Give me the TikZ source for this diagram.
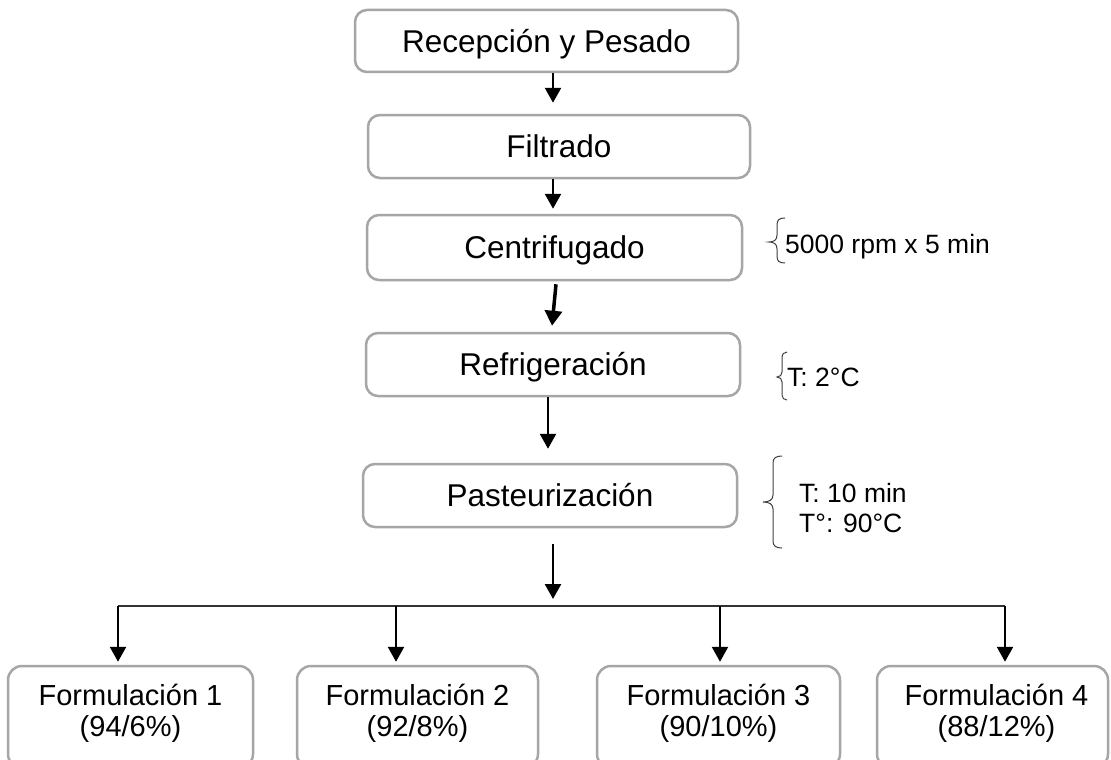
\documentclass[tikz,border=0pt]{standalone}
\usepackage{fontspec}
\setmainfont{Liberation Sans}
\usetikzlibrary{arrows.meta}
\definecolor{boxgray}{RGB}{166,166,166}
\definecolor{bracegray}{RGB}{64,64,64}
\definecolor{linegray}{RGB}{50,50,50}
\begin{document}
\begin{tikzpicture}[x=1pt,y=-1pt,
  stepbox/.style={draw=boxgray, line width=2.5pt, rounded corners=12pt, inner sep=0pt,
    font=\fontsize{31.5}{36}\selectfont, text height=22.5pt, text depth=0pt},
  formbox/.style={draw=boxgray, line width=2.5pt, rounded corners=14pt, inner sep=0pt, minimum height=102pt},
  ftext/.style={anchor=base, inner sep=0pt, font=\fontsize{29}{34}\selectfont},
  note/.style={anchor=base west, inner sep=0pt, font=\fontsize{26.5}{31}\selectfont},
  arr/.style={-{Triangle[width=16pt,length=15pt]}, line width=2.5pt},
  thickarr/.style={-{Triangle[width=17pt,length=15pt]}, line width=3.5pt},
  hline/.style={draw=linegray, line width=1.5pt},
  bracepath/.style={draw=bracegray, line width=1pt},
]
\clip (0,0) rectangle (1111,760);
\fill[white] (0,0) rectangle (1111,760);

% main steps
\node[stepbox, minimum width=383pt, minimum height=62pt] (b1) at (546.5,41) {Recepción y Pesado};
\node[stepbox, minimum width=382pt, minimum height=63pt] (b2) at (559,146.5) {Filtrado};
\node[stepbox, minimum width=375pt, minimum height=65pt] (b3) at (554.5,247.5) {Centrifugado};
\node[stepbox, minimum width=374pt, minimum height=63pt] (b4) at (553,364.5) {Refrigeración};
\node[stepbox, minimum width=374pt, minimum height=63pt] (b5) at (550,495.5) {Pasteurización};

% formulation boxes
\node[formbox, minimum width=245pt] (f1) at (130.5,717) {};
\node[formbox, minimum width=241pt] (f2) at (417.5,717) {};
\node[formbox, minimum width=243pt] (f3) at (718.5,717) {};
\node[formbox, minimum width=231pt] (f4) at (992.5,717) {};

\node[ftext] (f1a) at ([yshift=-41pt]f1.north) {Formulación 1};
\node[ftext] (f1b) at ([yshift=-72pt]f1.north) {(94/6\%)};
\node[ftext] (f2a) at ([yshift=-41pt]f2.north) {Formulación 2};
\node[ftext] (f2b) at ([yshift=-72pt]f2.north) {(92/8\%)};
\node[ftext] (f3a) at ([yshift=-41pt]f3.north) {Formulación 3};
\node[ftext] (f3b) at ([yshift=-72pt]f3.north) {(90/10\%)};
\node[ftext] (f4a) at ([xshift=4pt,yshift=-41pt]f4.north) {Formulación 4};
\node[ftext] (f4b) at ([xshift=4pt,yshift=-72pt]f4.north) {(88/12\%)};

% arrows between steps
\draw[arr] ([xshift=6.5pt]b1.south) -- ([xshift=-6pt,yshift=11pt]b2.north);
\draw[arr] ([xshift=-6pt]b2.south) -- ([xshift=-1.5pt,yshift=5pt]b3.north);
\draw[thickarr] ([xshift=1.5pt,yshift=-3pt]b3.south) -- ([xshift=-1pt,yshift=6pt]b4.north);
\draw[arr] ([xshift=-5pt]b4.south) -- ([xshift=-2pt,yshift=14pt]b5.north);

% split
\coordinate (j0) at (553,606);
\coordinate (j1) at (118,606);
\coordinate (j2) at (396,606);
\coordinate (j3) at (720,606);
\coordinate (j4) at (1005,606);
\draw[arr] ([xshift=3pt,yshift=-16pt]b5.south) -- ([yshift=7pt]j0);
\draw[hline] (j1) -- (j4);
\draw[arr, shorten >=3pt] (j1) -- (j1 |- f1.north);
\draw[arr, shorten >=3pt] (j2) -- (j2 |- f2.north);
\draw[arr, shorten >=3pt] (j3) -- (j3 |- f3.north);
\draw[arr, shorten >=3pt] (j4) -- (j4 |- f4.north);

% braces and notes
\draw[bracepath] (785,218) .. controls (779,218) and (777,220) .. (777,225) -- (777,235)
  .. controls (777,240) and (774,242) .. (769,242) .. controls (774,242) and (777,244) .. (777,249)
  -- (777,256) .. controls (777,261) and (779,263) .. (785,263);
\node[note] (n1) at (785,253) {5000 rpm x 5 min};

\draw[bracepath] (787,352) .. controls (784,352) and (782,354) .. (782,358) -- (782,372)
  .. controls (782,375) and (780,377) .. (777,377) .. controls (780,377) and (782,379) .. (782,382)
  -- (782,395) .. controls (782,398) and (784,400) .. (787,400);
\node[note] (n2) at (787,386) {T: 2°C};

\draw[bracepath] (782,456) .. controls (776,456) and (773,458) .. (773,463) -- (773,495)
  .. controls (773,500) and (769,502) .. (763,502) .. controls (769,502) and (773,504) .. (773,509)
  -- (773,541) .. controls (773,546) and (776,548) .. (782,548);
\node[note] (n3) at (799,502) {T: 10 min};
\node[note] (n4) at (799,532) {T°: 90°C};
\end{tikzpicture}
\end{document}
